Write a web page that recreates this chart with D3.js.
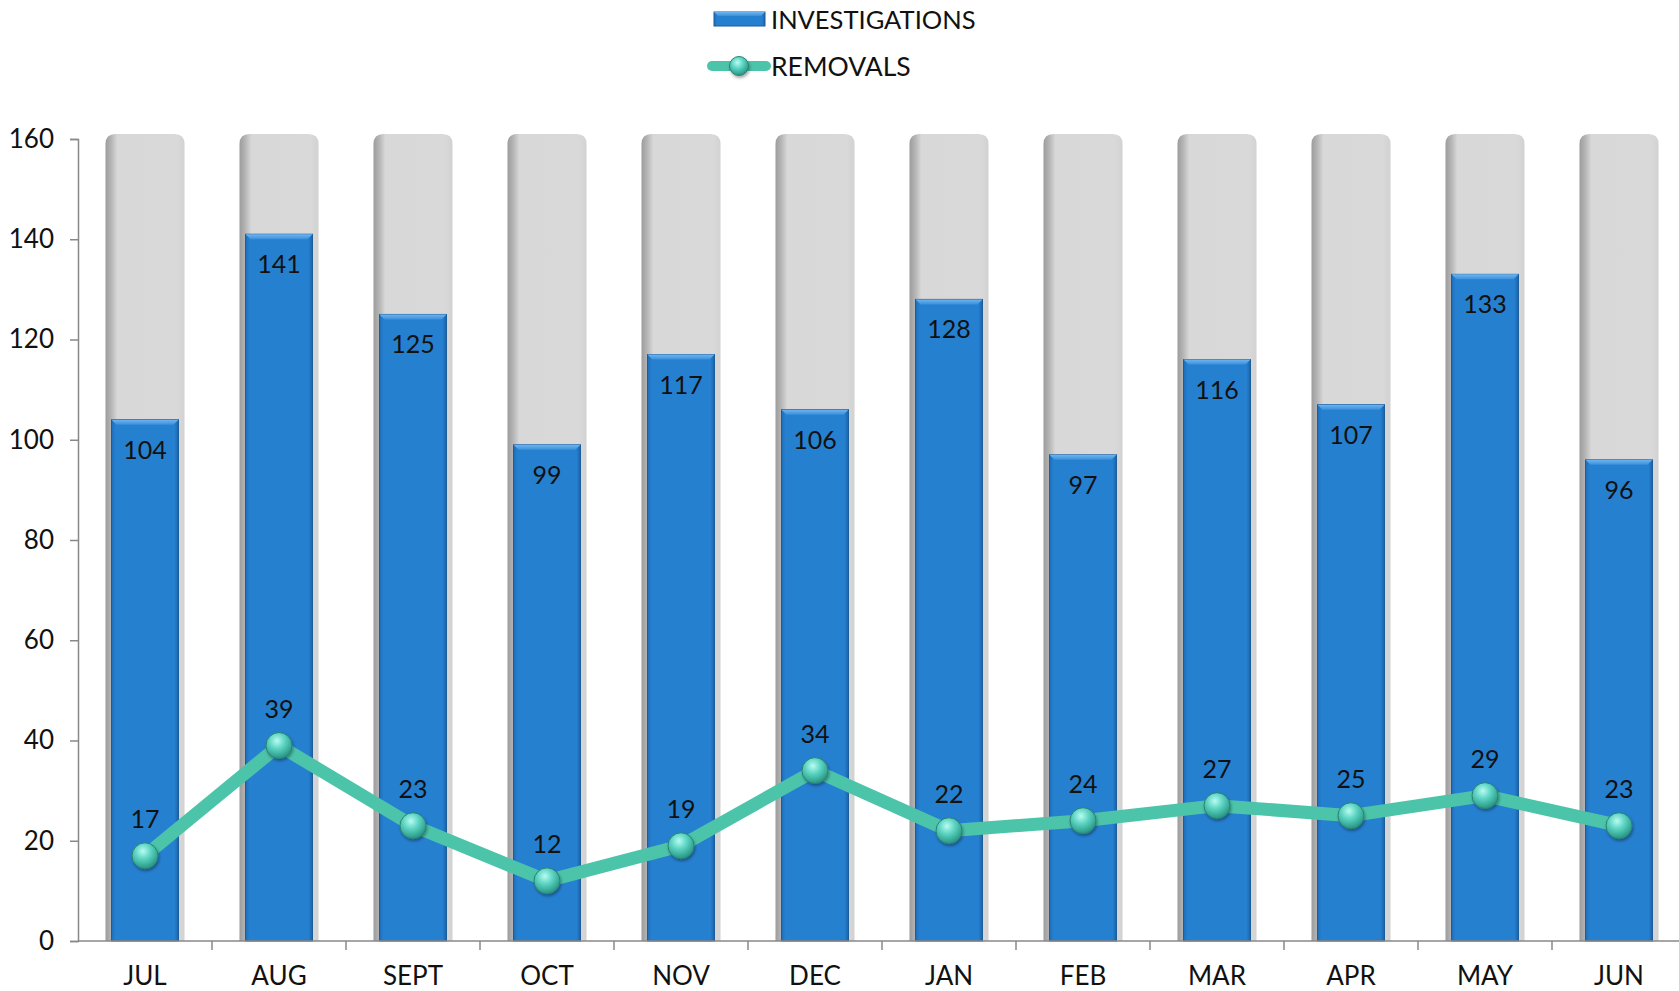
<!DOCTYPE html>
<html>
<head>
<meta charset="utf-8">
<script src="https://cdn.jsdelivr.net/npm/d3@7"></script>
<style>
  html, body { margin: 0; padding: 0; background: #fff; }
  svg { display: block; font-family: Lato, "Noto Sans", sans-serif; }
</style>
</head>
<body>
<svg id="drawing_region"></svg>
<script>
// chart data
const months = ["JUL", "AUG", "SEPT", "OCT", "NOV", "DEC", "JAN", "FEB", "MAR", "APR", "MAY", "JUN"];
const investigations = [104, 141, 125, 99, 117, 106, 128, 97, 116, 107, 133, 96];
const removals = [17, 39, 23, 12, 19, 34, 22, 24, 27, 25, 29, 23];
const yTicks = [0, 20, 40, 60, 80, 100, 120, 140, 160];
const backMax = 161;

const W = 1679, H = 991;
const svg = d3.select('#drawing_region').attr('width', W).attr('height', H);

const x = d3.scaleBand().domain(months).range([78, 1686]).padding(0);
const y = d3.scaleLinear().domain([0, 160]).range([941, 139]);
const bw = x.bandwidth();
const cx = d => x(d) + bw / 2;

// gradients
const defs = svg.append('defs');
const gGray = defs.append('linearGradient').attr('id', 'gray').attr('x1', 0).attr('x2', 1).attr('y1', 0).attr('y2', 0);
[[0, '#9c9c9c'], [0.07, '#b4b4b4'], [0.15, '#d8d8d8'], [0.9, '#d9d9d9'], [1, '#d2d2d2']]
    .forEach(s => gGray.append('stop').attr('offset', s[0]).attr('stop-color', s[1]));

const gBlue = defs.append('linearGradient').attr('id', 'blue').attr('x1', 0).attr('x2', 1).attr('y1', 0).attr('y2', 0);
[[0, '#1e6db8'], [0.06, '#2680d0'], [0.94, '#2680d0'], [1, '#1b62a8']]
    .forEach(s => gBlue.append('stop').attr('offset', s[0]).attr('stop-color', s[1]));

const gBevel = defs.append('linearGradient').attr('id', 'bevel').attr('x1', 0).attr('x2', 0).attr('y1', 0).attr('y2', 1);
[[0, '#6fb5ef'], [1, '#3a90dc']]
    .forEach(s => gBevel.append('stop').attr('offset', s[0]).attr('stop-color', s[1]));

const gBall = defs.append('radialGradient').attr('id', 'ball').attr('cx', '42%').attr('cy', '32%').attr('r', '65%');
[[0, '#b9fbf2'], [0.45, '#5fd6c4'], [1, '#2a9a88']]
    .forEach(s => gBall.append('stop').attr('offset', s[0]).attr('stop-color', s[1]));

const shadow = defs.append('filter').attr('id', 'shadow').attr('x', '-30%').attr('y', '-30%').attr('width', '160%').attr('height', '160%');
shadow.append('feDropShadow').attr('dx', 1).attr('dy', 2).attr('stdDeviation', 1.5).attr('flood-color', '#000').attr('flood-opacity', 0.35);

// background bars
const grayW = bw * 0.59;
const r = 10;
svg.append('g').selectAll('path').data(months).join('path')
    .attr('d', d => {
        const x0 = cx(d) - grayW / 2, x1 = cx(d) + grayW / 2, t = y(backMax), b = y(0);
        return `M${x0},${b}V${t + r}Q${x0},${t} ${x0 + r},${t}H${x1 - r}Q${x1},${t} ${x1},${t + r}V${b}Z`;
    })
    .attr('fill', 'url(#gray)');

// investigation bars
const blueW = bw * 0.5;
const bars = svg.append('g').selectAll('g').data(investigations).join('g');
bars.append('rect')
    .attr('x', (d, i) => cx(months[i]) - blueW / 2)
    .attr('y', d => y(d))
    .attr('width', blueW)
    .attr('height', d => y(0) - y(d))
    .attr('fill', 'url(#blue)')
    .attr('stroke', '#1a5c9c')
    .attr('stroke-width', 1);
bars.append('path')
    .attr('d', (d, i) => {
        const x0 = cx(months[i]) - blueW / 2, x1 = cx(months[i]) + blueW / 2, t = y(d);
        return `M${x0},${t}H${x1}L${x1 - 5},${t + 5}H${x0 + 5}Z`;
    })
    .attr('fill', 'url(#bevel)');
bars.append('text')
    .attr('x', (d, i) => cx(months[i]))
    .attr('y', d => y(d) + 29)
    .attr('text-anchor', 'middle')
    .attr('dominant-baseline', 'central')
    .attr('font-size', 25)
    .attr('fill', '#111')
    .text(d => d);

// axes
const yAxis = svg.append('g').attr('transform', `translate(78,0)`)
    .call(d3.axisLeft(y).tickValues(yTicks).tickSize(8).tickPadding(16));
yAxis.select('.domain').attr('stroke', '#888').attr('stroke-width', 1.5);
yAxis.selectAll('.tick line').attr('stroke', '#888').attr('stroke-width', 1.5);
yAxis.selectAll('.tick text').attr('font-size', 26).attr('fill', '#111').attr('font-family', 'Lato, "Noto Sans", sans-serif');

const xAxisG = svg.append('g').attr('transform', `translate(0,${y(0)})`);
xAxisG.append('line').attr('x1', 78).attr('x2', W).attr('stroke', '#888').attr('stroke-width', 1.5);
xAxisG.selectAll('line.tk').data(months.slice(1)).join('line')
    .attr('class', 'tk')
    .attr('x1', d => x(d)).attr('x2', d => x(d))
    .attr('y1', 0).attr('y2', 9)
    .attr('stroke', '#888').attr('stroke-width', 1.5);
xAxisG.selectAll('text').data(months).join('text')
    .attr('x', d => cx(d))
    .attr('y', 34)
    .attr('text-anchor', 'middle')
    .attr('dominant-baseline', 'central')
    .attr('font-size', 26)
    .attr('fill', '#111')
    .text(d => d);

// removals line
const line = d3.line().x((d, i) => cx(months[i])).y(d => y(d));
svg.append('path')
    .datum(removals)
    .attr('d', line)
    .attr('fill', 'none')
    .attr('stroke', '#4cc4aa')
    .attr('stroke-width', 13)
    .attr('stroke-linejoin', 'round');
svg.append('g').selectAll('circle').data(removals).join('circle')
    .attr('cx', (d, i) => cx(months[i]))
    .attr('cy', d => y(d))
    .attr('r', 13)
    .attr('fill', 'url(#ball)')
    .attr('stroke', '#2b8272')
    .attr('stroke-width', 1)
    .attr('filter', 'url(#shadow)');
svg.append('g').selectAll('text').data(removals).join('text')
    .attr('x', (d, i) => cx(months[i]))
    .attr('y', d => y(d) - 38)
    .attr('text-anchor', 'middle')
    .attr('dominant-baseline', 'central')
    .attr('font-size', 25)
    .attr('fill', '#111')
    .text(d => d);

// legend
const legend = svg.append('g');
legend.append('rect').attr('x', 714).attr('y', 12).attr('width', 51).attr('height', 14)
    .attr('fill', 'url(#blue)').attr('stroke', '#1a5c9c');
legend.append('path').attr('d', 'M714,12H765L761,16H718Z').attr('fill', 'url(#bevel)');
legend.append('text').attr('x', 771).attr('y', 19).attr('dominant-baseline', 'central')
    .attr('font-size', 25.5).attr('fill', '#111').text('INVESTIGATIONS');
legend.append('line').attr('x1', 712).attr('x2', 766).attr('y1', 66).attr('y2', 66)
    .attr('stroke', '#4cc4aa').attr('stroke-width', 10).attr('stroke-linecap', 'round');
legend.append('circle').attr('cx', 739).attr('cy', 66).attr('r', 9.5)
    .attr('fill', 'url(#ball)').attr('stroke', '#2b8272').attr('filter', 'url(#shadow)');
legend.append('text').attr('x', 771).attr('y', 66).attr('dominant-baseline', 'central')
    .attr('font-size', 26.5).attr('fill', '#111').text('REMOVALS');
</script>
</body>
</html>
